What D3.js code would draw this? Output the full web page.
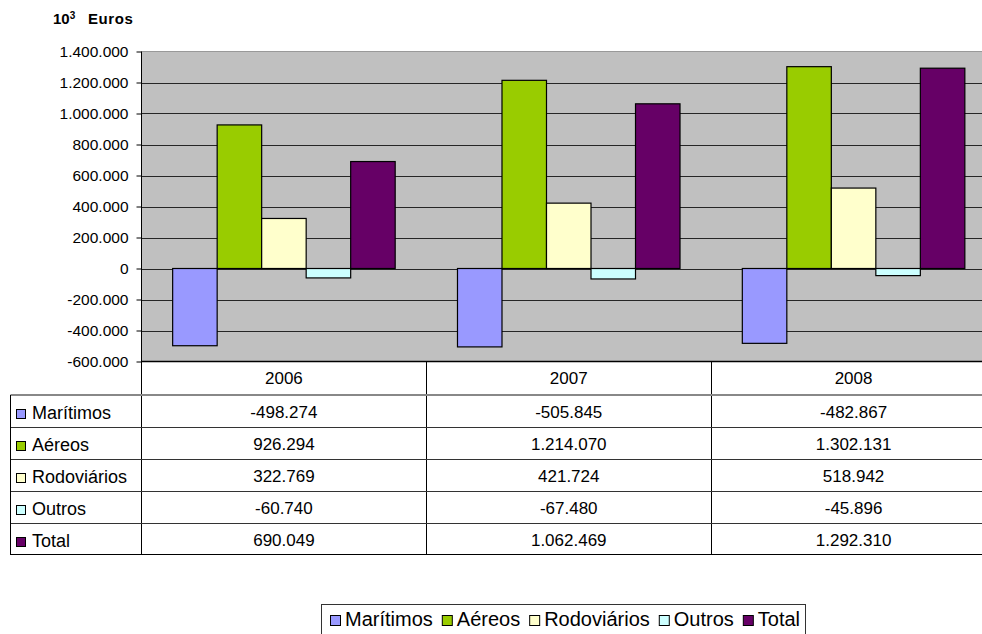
<!DOCTYPE html>
<html>
<head>
<meta charset="utf-8">
<script src="https://cdnjs.cloudflare.com/ajax/libs/d3/7.8.5/d3.min.js"></script>
<style>
  body { margin: 0; background: #fff; }
  svg { display: block; font-family: "Liberation Sans", Arial, sans-serif; }
</style>
</head>
<body>
<main></main>
<script>
const width = 982;
const height = 634;

const years = ['2006', '2007', '2008'];
const series = ['Marítimos', 'Aéreos', 'Rodoviários', 'Outros', 'Total'];
const maritimos = [-498274, -505845, -482867];
const aereos = [926294, 1214070, 1302131];
const rodoviarios = [322769, 421724, 518942];
const outros = [-60740, -67480, -45896];
const total = [690049, 1062469, 1292310];
const colors = ['#9999FF', '#99CC00', '#FFFFCC', '#CCFFFF', '#660066'];
const yTicks = [-600000, -400000, -200000, 0, 200000, 400000, 600000, 800000, 1000000, 1200000, 1400000];

const values = [maritimos, aereos, rodoviarios, outros, total];

const plot = { left: 141.5, right: 996, top: 51.5, bottom: 361.5 };
const rowH = 32;
const tableTop = 395;

const pt = d3.formatLocale({ decimal: ',', thousands: '.', grouping: [3], currency: ['', '€'], minus: '-' });
const fmt = pt.format(',d');

const createSvg = () => {
    return d3.select('main')
             .append('svg')
             .attr('width', width)
             .attr('height', height);
};

const createScales = () => {
    const x0 = d3.scaleBand().domain(years).range([plot.left, plot.right]);
    const bw = x0.bandwidth();
    const unit = bw / 6.4;
    const x1 = d3.scaleBand().domain(series).range([unit * 0.7, bw - unit * 0.7]);
    const y = d3.scaleLinear().domain([-600000, 1400000]).range([plot.bottom, plot.top]);
    return { x0, x1, y };
};

const createTitle = (svg) => {
    const t = svg.append('text')
                 .attr('x', 53)
                 .attr('y', 24)
                 .attr('font-size', 15)
                 .attr('font-weight', 'bold')
                 .attr('fill', '#000');
    t.append('tspan').text('10');
    t.append('tspan').attr('dy', -5).attr('font-size', 10).text('3');
    t.append('tspan').attr('x', 88).attr('dy', 5).attr('letter-spacing', 0.6).text('Euros');
};

const createPlot = (svg, scales) => {
    svg.append('rect')
       .attr('x', plot.left)
       .attr('y', plot.top)
       .attr('width', plot.right - plot.left)
       .attr('height', plot.bottom - plot.top)
       .attr('fill', '#C0C0C0');

    svg.append('line')
       .attr('x1', plot.left).attr('x2', plot.right)
       .attr('y1', plot.top).attr('y2', plot.top)
       .attr('stroke', '#999');

    svg.append('g')
       .selectAll('line')
       .data(yTicks.slice(1, -1))
       .enter()
       .append('line')
       .attr('x1', plot.left).attr('x2', plot.right)
       .attr('y1', (d) => Math.round(scales.y(d)) + 0.5)
       .attr('y2', (d) => Math.round(scales.y(d)) + 0.5)
       .attr('stroke', '#262626');

    const axis = svg.append('g')
                    .attr('id', 'y-axis')
                    .attr('transform', 'translate(' + plot.left + ',0)')
                    .call(d3.axisLeft(scales.y).tickValues(yTicks).tickFormat(fmt).tickSizeOuter(0).tickSize(5).tickPadding(8));
    axis.select('.domain').remove();
    axis.selectAll('.tick line').attr('stroke', '#000');
    axis.selectAll('.tick text')
        .attr('font-size', 15.5)
        .attr('font-family', '"Liberation Sans", Arial, sans-serif')
        .attr('fill', '#000');
};

const createBars = (svg, scales) => {
    const rows = [];
    series.forEach((s, i) => {
        years.forEach((yr, j) => rows.push({ s, yr, v: values[i][j], c: colors[i] }));
    });
    svg.append('g')
       .selectAll('rect')
       .data(rows)
       .enter()
       .append('rect')
       .attr('x', (d) => scales.x0(d.yr) + scales.x1(d.s))
       .attr('y', (d) => scales.y(Math.max(0, d.v)))
       .attr('width', scales.x1.bandwidth())
       .attr('height', (d) => Math.abs(scales.y(d.v) - scales.y(0)))
       .attr('fill', (d) => d.c)
       .attr('stroke', '#000')
       .attr('stroke-width', 1.2);

    // axes lines over bars
    svg.append('line')
       .attr('x1', plot.left).attr('x2', plot.left)
       .attr('y1', plot.top).attr('y2', tableTop + rowH * 5 - 1)
       .attr('stroke', '#000');
    svg.append('line')
       .attr('x1', plot.left).attr('x2', plot.right)
       .attr('y1', plot.bottom).attr('y2', plot.bottom)
       .attr('stroke', '#000').attr('stroke-width', 1.5);
};

const createTable = (svg, scales) => {
    const bottom = tableTop + rowH * 5 - 1;
    const g = svg.append('g');

    // year header
    g.selectAll('.yr')
     .data(years)
     .enter()
     .append('text')
     .attr('x', (d) => scales.x0(d) + scales.x0.bandwidth() / 2)
     .attr('y', 384)
     .attr('text-anchor', 'middle')
     .attr('font-size', 17)
     .text((d) => d);

    // column lines
    g.selectAll('.col')
     .data(years.slice(1))
     .enter()
     .append('line')
     .attr('x1', (d) => Math.round(scales.x0(d)) + 0.5)
     .attr('x2', (d) => Math.round(scales.x0(d)) + 0.5)
     .attr('y1', plot.bottom).attr('y2', bottom)
     .attr('stroke', '#000');

    // row lines
    g.append('line')
     .attr('x1', 10.5).attr('x2', plot.right)
     .attr('y1', tableTop).attr('y2', tableTop)
     .attr('stroke', '#888').attr('stroke-width', 2);
    g.selectAll('.row')
     .data(d3.range(1, 5))
     .enter()
     .append('line')
     .attr('x1', 10.5).attr('x2', plot.right)
     .attr('y1', (d) => tableTop + d * rowH + 0.5)
     .attr('y2', (d) => tableTop + d * rowH + 0.5)
     .attr('stroke', '#333');
    g.append('line')
     .attr('x1', 10.5).attr('x2', plot.right)
     .attr('y1', bottom + 0.5).attr('y2', bottom + 0.5)
     .attr('stroke', '#000');
    g.append('line')
     .attr('x1', 10.5).attr('x2', 10.5)
     .attr('y1', tableTop).attr('y2', bottom + 1)
     .attr('stroke', '#000');

    series.forEach((s, i) => {
        const cy = tableTop + i * rowH + rowH / 2;
        g.append('rect')
         .attr('x', 16.5).attr('y', cy - 1.5)
         .attr('width', 9).attr('height', 9)
         .attr('fill', colors[i])
         .attr('stroke', '#000');
        g.append('text')
         .attr('x', 32)
         .attr('y', cy + 8)
         .attr('font-size', 18)
         .text(s);
        years.forEach((yr, j) => {
            g.append('text')
             .attr('x', scales.x0(yr) + scales.x0.bandwidth() / 2)
             .attr('y', cy + 7)
             .attr('text-anchor', 'middle')
             .attr('font-size', 17)
             .text(fmt(values[i][j]));
        });
    });
};

const createLegend = (svg) => {
    const g = svg.append('g');
    g.append('rect')
     .attr('x', 321.5).attr('y', 604.5)
     .attr('width', 484).attr('height', 40)
     .attr('fill', '#fff')
     .attr('stroke', '#333');
    let x = 330;
    series.forEach((s, i) => {
        g.append('rect')
         .attr('x', x + 0.5).attr('y', 615.5)
         .attr('width', 10).attr('height', 10)
         .attr('fill', colors[i])
         .attr('stroke', '#000');
        const t = g.append('text')
                   .attr('x', x + 15)
                   .attr('y', 626)
                   .attr('font-size', 20)
                   .text(s);
        x = x + 15 + t.node().getComputedTextLength() + 9;
    });
};

const driver = () => {
    const svg = createSvg();
    const scales = createScales();
    createTitle(svg);
    createPlot(svg, scales);
    createBars(svg, scales);
    createTable(svg, scales);
    createLegend(svg);
};
driver();
</script>
</body>
</html>
